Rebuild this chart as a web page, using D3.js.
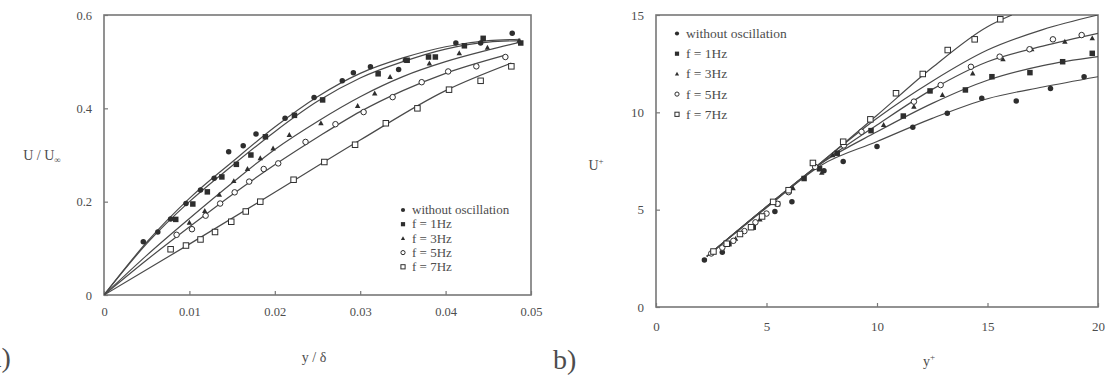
<!DOCTYPE html>
<html>
<head>
<meta charset="utf-8">
<script src="https://cdn.jsdelivr.net/npm/d3@7"></script>
<style>
  body { margin: 0; background: #fff; }
  svg { display: block; }
  text { font-family: "Liberation Serif", "DejaVu Serif", serif; fill: #4d4d4d; }
</style>
</head>
<body>
<script>
// ---- data ----
const seriesNames = ["without oscillation", "f = 1Hz", "f = 3Hz", "f = 5Hz", "f = 7Hz"];

// panel a) U/U_inf vs y/delta
const aTicksX = [0, 0.01, 0.02, 0.03, 0.04, 0.05];
const aTicksY = [0, 0.2, 0.4, 0.6];
const aPts0 = [[0.0046,0.114],[0.0063,0.135],[0.0078,0.163],[0.0096,0.196],[0.0113,0.225],[0.0129,0.25],[0.0146,0.307],[0.0163,0.32],[0.0178,0.345],[0.0212,0.379],[0.0246,0.423],[0.0279,0.459],[0.0292,0.476],[0.0312,0.489],[0.0345,0.483],[0.0353,0.503],[0.0412,0.54],[0.0441,0.54],[0.0478,0.561]];
const aPts1 = [[0.0084,0.162],[0.0104,0.195],[0.0121,0.221],[0.0138,0.253],[0.0155,0.28],[0.0172,0.30],[0.0189,0.339],[0.0223,0.385],[0.0256,0.418],[0.0321,0.474],[0.0355,0.503],[0.038,0.51],[0.0388,0.51],[0.0422,0.534],[0.0444,0.55],[0.0488,0.54]];
const aPts2 = [[0.01,0.155],[0.0118,0.18],[0.0135,0.215],[0.0152,0.244],[0.0168,0.27],[0.0183,0.293],[0.0198,0.314],[0.0217,0.343],[0.0254,0.368],[0.0297,0.405],[0.0317,0.432],[0.0335,0.467],[0.0381,0.496],[0.0416,0.518],[0.0449,0.53],[0.0486,0.545]];
const aPts3 = [[0.0085,0.129],[0.0103,0.141],[0.0119,0.17],[0.0136,0.196],[0.0153,0.22],[0.017,0.243],[0.0187,0.27],[0.0204,0.282],[0.0236,0.328],[0.0271,0.366],[0.0304,0.392],[0.0338,0.424],[0.0372,0.456],[0.0403,0.479],[0.0436,0.49],[0.047,0.51]];
const aPts4 = [[0.0078,0.098],[0.0096,0.106],[0.0113,0.119],[0.013,0.135],[0.0149,0.157],[0.0166,0.179],[0.0183,0.2],[0.0222,0.247],[0.0258,0.285],[0.0294,0.322],[0.033,0.368],[0.0367,0.40],[0.0404,0.44],[0.0441,0.459],[0.0477,0.49]];
// fitted curves (traced)
const aFit0 = [[0,0],[0.005,0.113],[0.01,0.207],[0.015,0.285],[0.02,0.36],[0.025,0.425],[0.03,0.475],[0.035,0.508],[0.04,0.532],[0.045,0.545],[0.0488,0.548]];
const aFit1 = [[0,0],[0.005,0.11],[0.01,0.2],[0.015,0.277],[0.02,0.35],[0.025,0.415],[0.03,0.465],[0.035,0.5],[0.04,0.527],[0.045,0.542],[0.0488,0.545]];
const aFit2 = [[0,0],[0.005,0.085],[0.01,0.164],[0.015,0.24],[0.02,0.312],[0.025,0.372],[0.03,0.425],[0.035,0.468],[0.04,0.5],[0.045,0.525],[0.0488,0.542]];
const aFit3 = [[0,0],[0.005,0.075],[0.01,0.146],[0.015,0.215],[0.02,0.279],[0.025,0.338],[0.03,0.393],[0.035,0.438],[0.04,0.475],[0.047,0.514]];
const aFit4 = [[0,0],[0.01,0.109],[0.02,0.22],[0.03,0.332],[0.04,0.438],[0.0477,0.497]];

// panel b) U+ vs y+
const bTicksX = [0, 5, 10, 15, 20];
const bTicksY = [0, 5, 10, 15];
const bPts0 = [[2.19,2.41],[3.0,2.81],[5.38,4.9],[6.15,5.41],[7.6,7.0],[8.47,7.47],[10.0,8.24],[11.62,9.23],[13.18,9.95],[14.74,10.72],[16.3,10.58],[17.85,11.23],[19.37,11.83]];
const bPts1 = [[3.3,3.25],[4.4,4.1],[5.5,5.3],[6.7,6.6],[7.4,7.1],[8.2,7.9],[9.73,9.06],[11.19,9.81],[12.4,11.1],[14.0,11.15],[15.2,11.83],[16.92,12.04],[18.4,12.6],[19.74,13.03]];
const bPts2 = [[3.6,3.5],[4.7,4.5],[6.2,6.1],[7.5,6.9],[8.0,7.8],[10.3,9.35],[11.67,10.29],[12.96,10.89],[14.33,12.0],[15.7,12.72],[17.0,13.24],[18.5,13.63],[19.74,13.8]];
const bPts3 = [[2.5,2.75],[3.0,3.05],[3.5,3.4],[4.0,3.9],[4.5,4.35],[5.0,4.8],[5.5,5.3],[6.0,5.9],[7.2,7.2],[8.5,8.3],[9.3,9.0],[11.67,10.55],[12.88,11.4],[14.25,12.34],[15.55,12.86],[16.9,13.24],[17.96,13.75],[19.26,13.97]];
const bPts4 = [[2.6,2.85],[3.2,3.25],[3.8,3.75],[4.3,4.1],[4.8,4.65],[5.3,5.4],[6.0,6.0],[7.1,7.4],[8.47,8.49],[9.7,9.64],[10.86,10.98],[12.07,11.97],[13.2,13.2],[14.42,13.75],[15.58,14.78]];
const bFit0 = [[2.3,2.6],[5,5.1],[7.5,7.3],[10,8.5],[12.5,9.69],[15,10.7],[17.5,11.3],[20,11.83]];
const bFit1 = [[2.3,2.6],[5,5.15],[7.5,7.4],[10,9.0],[12.5,10.46],[15,11.65],[17.5,12.4],[20,12.86]];
const bFit2 = [[2.3,2.6],[5,5.15],[7.5,7.4],[10,9.35],[12.5,11.18],[15,12.6],[17.5,13.4],[20,14.06]];
const bFit3 = [[2.3,2.6],[5,5.15],[7.5,7.45],[10,9.7],[12.5,11.6],[15,13.2],[17.5,14.25],[20,15.0]];
const bFit4 = [[2.3,2.6],[5,5.15],[7.5,7.45],[10,9.85],[12.5,12.3],[15,14.4],[16.1,15]];

const W = 1110, H = 378;
const ink = "#2e2e2e", lineCol = "#4a4a4a", axisCol = "#777";
const shapes = ["dot", "square", "triangle", "ocircle", "osquare"];

const svg = d3.select("body").append("svg").attr("width", W).attr("height", H);

function marker(g, shape, x, y, s) {
  if (shape === "dot") {
    g.append("circle").attr("cx", x).attr("cy", y).attr("r", s * 0.5).attr("fill", ink);
  } else if (shape === "square") {
    g.append("rect").attr("x", x - s / 2).attr("y", y - s / 2).attr("width", s).attr("height", s).attr("fill", ink);
  } else if (shape === "triangle") {
    const h = s * 0.9;
    g.append("path").attr("d", `M${x},${y - h * 0.6}L${x + h * 0.55},${y + h * 0.4}L${x - h * 0.55},${y + h * 0.4}Z`).attr("fill", ink);
  } else if (shape === "ocircle") {
    g.append("circle").attr("cx", x).attr("cy", y).attr("r", s * 0.5).attr("fill", "#fff").attr("stroke", ink).attr("stroke-width", 1);
  } else {
    g.append("rect").attr("x", x - s / 2).attr("y", y - s / 2).attr("width", s).attr("height", s).attr("fill", "#fff").attr("stroke", ink).attr("stroke-width", 1);
  }
}

function panel(o) {
  const g = svg.append("g");
  const x = d3.scaleLinear().domain(o.xd).range([o.left, o.right]);
  const y = d3.scaleLinear().domain(o.yd).range([o.bottom, o.top]);
  const id = "clip" + o.key;
  svg.append("clipPath").attr("id", id).append("rect")
    .attr("x", o.left).attr("y", o.top).attr("width", o.right - o.left).attr("height", o.bottom - o.top);

  // axes with inward ticks
  const xa = g.append("g").attr("transform", `translate(0,${o.bottom})`)
    .call(d3.axisBottom(x).tickValues(o.tx).tickFormat(o.fx).tickSizeInner(-4).tickSizeOuter(0).tickPadding(o.padX));
  const ya = g.append("g").attr("transform", `translate(${o.left},0)`)
    .call(d3.axisLeft(y).tickValues(o.ty).tickFormat(o.fy).tickSizeInner(-4).tickSizeOuter(0).tickPadding(o.padY));
  [xa, ya].forEach(a => {
    a.select(".domain").remove();
    a.selectAll("line").attr("stroke", axisCol).attr("stroke-width", 1.2);
    a.selectAll("text").attr("font-size", o.fs).attr("font-family", "Liberation Serif").attr("fill", "#666");
  });
  g.append("rect").attr("x", o.left).attr("y", o.top).attr("width", o.right - o.left).attr("height", o.bottom - o.top)
    .attr("fill", "none").attr("stroke", axisCol).attr("stroke-width", 1.6);

  const line = d3.line().x(d => x(d[0])).y(d => y(d[1])).curve(d3.curveMonotoneX);
  const lg = g.append("g").attr("clip-path", `url(#${id})`);
  o.fits.forEach(f => lg.append("path").attr("d", line(f)).attr("fill", "none").attr("stroke", lineCol).attr("stroke-width", 1.2));

  const mg = g.append("g");
  o.pts.forEach((ser, i) => ser.forEach(d => marker(mg, shapes[i], x(d[0]), y(d[1]), o.ms)));

  // legend
  const leg = g.append("g");
  seriesNames.forEach((n, i) => {
    const ly = o.legY + i * o.legDy;
    marker(leg, shapes[i], o.legX, ly, 4.2);
    leg.append("text").attr("x", o.legX + 9).attr("y", ly + o.legFs * 0.33).attr("font-size", o.legFs).text(n);
  });
  return { g, x, y };
}

panel({
  key: "a", left: 104, right: 531, top: 15, bottom: 295,
  xd: [0, 0.05], yd: [0, 0.6], tx: aTicksX, ty: aTicksY,
  fx: d => d === 0 ? "0" : d3.format(".2f")(d), fy: d => d === 0 ? "0" : d3.format(".1f")(d),
  padX: 12, padY: 12, fs: 12.5, ms: 5.5,
  fits: [aFit0, aFit1, aFit2, aFit3, aFit4], pts: [aPts0, aPts1, aPts2, aPts3, aPts4],
  legX: 403, legY: 210, legDy: 14.2, legFs: 13
});
panel({
  key: "b", left: 656, right: 1098, top: 15, bottom: 307,
  xd: [0, 20], yd: [0, 15], tx: bTicksX, ty: bTicksY,
  fx: d3.format("d"), fy: d3.format("d"),
  padX: 15, padY: 12, fs: 13, ms: 5.5,
  fits: [bFit0, bFit1, bFit2, bFit3, bFit4], pts: [bPts0, bPts1, bPts2, bPts3, bPts4],
  legX: 677, legY: 33.5, legDy: 20.2, legFs: 13.5
});

// axis titles
const ylA = svg.append("text").attr("x", 42).attr("y", 160).attr("text-anchor", "middle").attr("font-size", 14);
ylA.append("tspan").text("U / U");
ylA.append("tspan").attr("font-size", 9).attr("dy", 3).text("∞");
svg.append("text").attr("x", 314).attr("y", 362).attr("text-anchor", "middle").attr("font-size", 14).text("y / δ");

const ylB = svg.append("text").attr("x", 596).attr("y", 170).attr("text-anchor", "middle").attr("font-size", 14);
ylB.append("tspan").text("U");
ylB.append("tspan").attr("font-size", 9).attr("dy", -6).text("+");
const xlB = svg.append("text").attr("x", 929).attr("y", 366).attr("text-anchor", "middle").attr("font-size", 14);
xlB.append("tspan").text("y");
xlB.append("tspan").attr("font-size", 9).attr("dy", -6).text("+");

// panel letters
svg.append("text").attr("x", -11).attr("y", 367).attr("font-size", 28).attr("fill", "#111").text("a)");
svg.append("text").attr("x", 553).attr("y", 369).attr("font-size", 28).attr("fill", "#111").text("b)");
</script>
</body>
</html>
